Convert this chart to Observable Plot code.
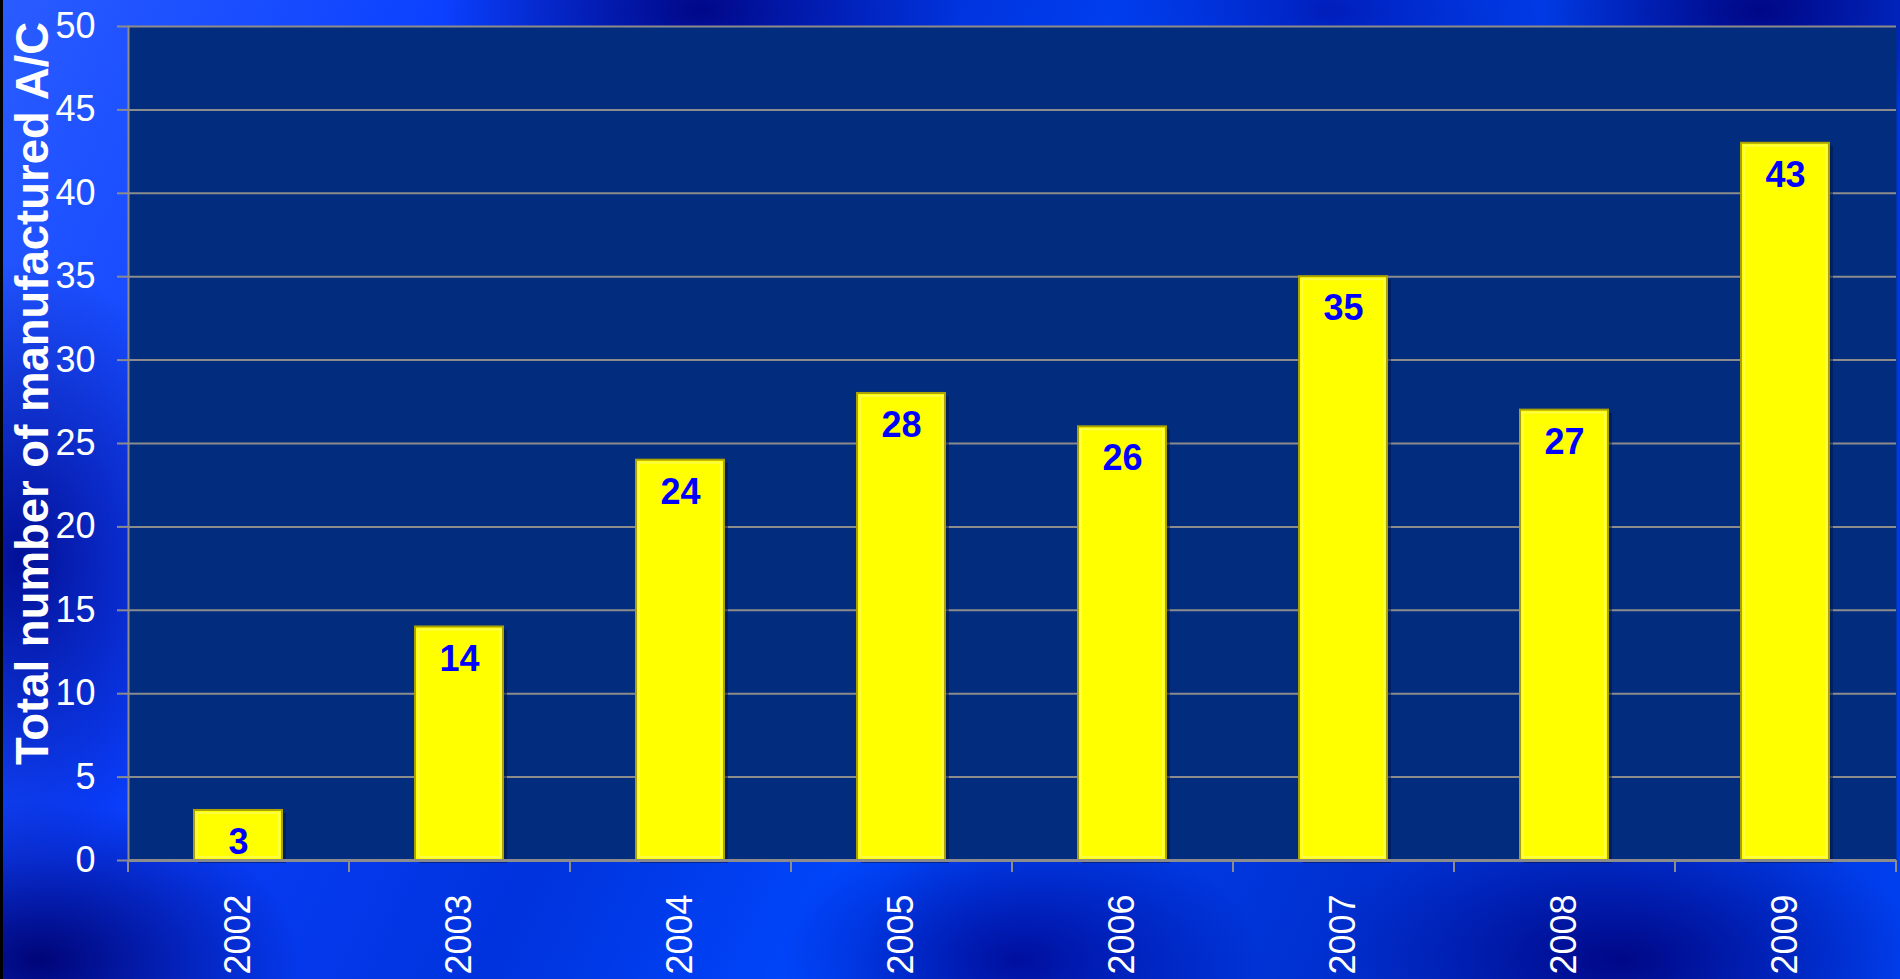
<!DOCTYPE html>
<html>
<head>
<meta charset="utf-8">
<script src="https://cdn.jsdelivr.net/npm/d3@7"></script>
<script src="https://cdn.jsdelivr.net/npm/@observablehq/plot@0.6"></script>
<style>
  html, body { margin: 0; padding: 0; }
  body { width: 1900px; height: 979px; overflow: hidden; position: relative;
    background:
      radial-gradient(ellipse 260px 140px at 700px 10px, rgba(0,5,130,0.95), rgba(0,5,130,0) 100%),
      radial-gradient(ellipse 220px 120px at 1760px 10px, rgba(0,5,130,0.95), rgba(0,5,130,0) 100%),
      radial-gradient(ellipse 220px 120px at 1330px 10px, rgba(0,20,170,0.8), rgba(0,20,170,0) 100%),
      radial-gradient(ellipse 260px 160px at 40px 960px, rgba(0,5,120,1), rgba(0,5,120,0) 100%),
      radial-gradient(ellipse 240px 140px at 1020px 960px, rgba(0,10,150,0.9), rgba(0,10,150,0) 100%),
      radial-gradient(ellipse 300px 150px at 1620px 960px, rgba(0,5,130,0.95), rgba(0,5,130,0) 100%),
      radial-gradient(ellipse 200px 300px at 20px 560px, rgba(0,10,140,0.9), rgba(0,10,140,0) 100%),
      linear-gradient(115deg, #2a5cff 0%, #0a40ff 20%, #0033dd 40%, #0048ff 55%, #0030d0 75%, #0040f0 100%);
  }
  #edge { position: absolute; left: 0; top: 0; width: 3px; height: 979px; background: #000; }
  #chart { position: absolute; left: 0; top: 0; }
</style>
</head>
<body>
<div id="chart"></div>
<div id="edge"></div>
<script>
const years = ["2002", "2003", "2004", "2005", "2006", "2007", "2008", "2009"];
const aircraft = [3, 14, 24, 28, 26, 35, 27, 43];
const yTicks = [0, 5, 10, 15, 20, 25, 30, 35, 40, 45, 50];
const yTitle = "Total number of manufactured A/C";

const data = years.map((year, i) => ({year, value: aircraft[i]}));

const W = 1900, H = 979, ML = 128, MR = 4, MT = 26, MB = 119;
const step = (W - ML - MR) / years.length;
const grey = "#8c8c8c";

const chart = Plot.plot({
  width: W,
  height: H,
  marginLeft: ML,
  marginRight: MR,
  marginTop: MT,
  marginBottom: MB,
  style: {background: "transparent", color: "white", fontFamily: "'Liberation Sans', Arial, sans-serif"},
  x: {type: "band", domain: years, paddingInner: 0.6, paddingOuter: 0.3},
  y: {domain: [0, 50]},
  marks: [
    Plot.frame({fill: "#022c7e", stroke: null}),
    Plot.gridY({ticks: yTicks, stroke: grey, strokeOpacity: 1, strokeWidth: 2}),
    Plot.barY(data, {x: "year", y: "value", fill: "#001540", fillOpacity: 0.55, dx: 4, dy: 3}),
    Plot.barY(data, {x: "year", y: "value", fill: "#ffff00", stroke: "#aaa200", strokeWidth: 2}),
    Plot.barY(data, {x: "year", y: "value", fill: "none", stroke: "#fbfb8a", strokeWidth: 2, insetLeft: 3, insetRight: 3, insetTop: 3, insetBottom: 3, strokeOpacity: 0.5}),
    Plot.frame({anchor: "left", stroke: grey, strokeWidth: 2}),
    Plot.ruleY([0], {stroke: grey, strokeWidth: 3}),
    Plot.axisY({ticks: yTicks, tickSize: 11, tickPadding: 22, fontSize: 36, stroke: grey, strokeWidth: 2, label: null, tickFormat: d => String(d)}),
    Plot.axisX({tickSize: 0, tickPadding: 34, tickRotate: -90, fontSize: 36, label: null}),
    Plot.axisX({tickSize: 12, stroke: grey, strokeWidth: 2, dx: -step / 2, text: null, label: null}),
    Plot.axisX({ticks: [years[years.length - 1]], tickSize: 12, stroke: grey, strokeWidth: 2, dx: step / 2, text: null, label: null}),
    Plot.text(data, {x: "year", y: "value", text: d => String(d.value), dy: 32, fill: "#0000ff", fontWeight: "bold", fontSize: 36}),
    Plot.text([yTitle], {frameAnchor: "left", textAnchor: "middle", rotate: -90, dx: -95, dy: -50, fill: "white", fontWeight: "bold", fontSize: 45.5, text: d => d})
  ]
});

document.getElementById("chart").appendChild(chart);
</script>
</body>
</html>
